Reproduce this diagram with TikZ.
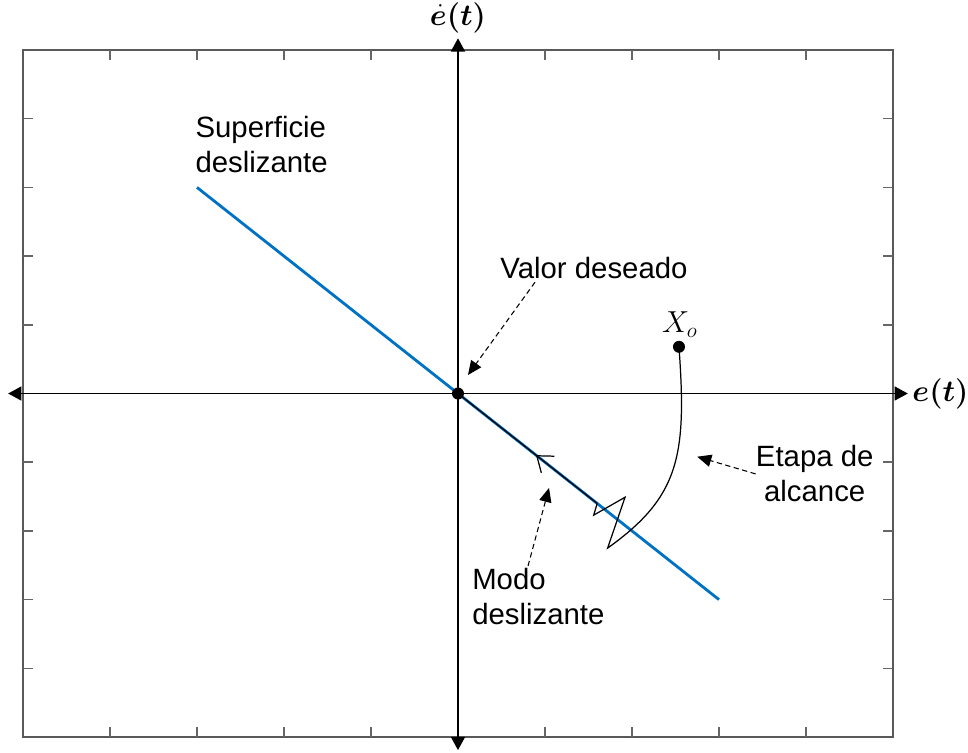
\documentclass[tikz,border=0pt]{standalone}
\usepackage{fontspec}
\setmainfont{Liberation Sans}
\usepackage{amsmath}
\usepackage{bm}
\usetikzlibrary{arrows.meta, decorations.markings}

\definecolor{slideblue}{RGB}{0,114,198}

\begin{document}
\begin{tikzpicture}[x=1.74cm, y=1.374cm,
    lbl/.style={font=\fontsize{16.7}{20}\selectfont, inner sep=0pt, align=left},
    guide/.style={-{Triangle[length=8pt,width=7pt]}, dash pattern=on 3pt off 2pt, line width=0.6pt},
    axis/.style={{Triangle[length=7.5pt,width=8pt]}-{Triangle[length=7.5pt,width=8pt]}, line width=0.7pt},
    dot/.style={circle, fill=black, inner sep=0pt, minimum size=0.24cm}]

\useasboundingbox (-5.264,-5.218) rectangle (5.862,5.728);

% Frame with inward ticks
\draw[black!65, line width=1.1pt] (-5,-5) rectangle (5,5);
\foreach \t in {-4,-3,-2,-1,1,2,3,4} {
    \draw[black!60, line width=0.9pt] (\t,5) -- ++(0,-0.146);
    \draw[black!60, line width=0.9pt] (\t,-5) -- ++(0,0.146);
    \draw[black!60, line width=0.9pt] (-5,\t) -- ++(0.115,0);
    \draw[black!60, line width=0.9pt] (5,\t) -- ++(-0.115,0);
}

% Axes
\draw[axis] (-5.17,0) -- (5.17,0);
\draw[axis] (0,-5.19) -- (0,5.17);
\node[lbl, anchor=west] (elbl) at (5.22,0) {$\bm{e(t)}$};
\node[lbl] (edotlbl) at (0,5.47) {$\bm{\dot{e}(t)}$};

% Sliding surface
\draw[slideblue, line width=1.6pt] (-3,3) -- (3,-3);
\node[lbl, anchor=west] (surflbl) at (-3.02,3.62) {Superficie\\deslizante};

% Points
\node[dot] (goal) at (0,0) {};
\node[dot] (x0) at (2.54,0.68) {};
\node[lbl] (x0lbl) at (2.55,1.0) {$X_o$};

% Trajectory: reaching phase, chattering, sliding mode
\draw[line width=0.7pt] (x0.center) .. controls (2.63,-0.9) and (2.55,-1.5) .. (1.72,-2.25)
    -- (1.92,-1.51) -- (1.56,-1.77) -- (1.6,-1.6);
\draw[line width=0.7pt, decoration={markings, mark=at position 0.44 with {\arrow{Straight Barb[length=8pt,width=12pt]}}},
    postaction={decorate}] (1.6,-1.6) -- (goal.center);

% Labels with dashed pointers
\node[lbl] (goallbl) at (1.563,1.827) {Valor deseado};
\coordinate (goaltail) at (0.885,1.62);
\coordinate (goaltip) at (0.115,0.27);
\draw[guide] (goaltail) -- (goaltip);

\node[lbl, align=center] (reachlbl) at (4.10,-1.17) {Etapa de\\alcance};
\coordinate (reachtip) at (2.75,-0.92);
\draw[guide] (reachlbl.west) -- (reachtip);

\node[lbl, anchor=west] (modelbl) at (0.16,-2.96) {Modo\\deslizante};
\coordinate (modetail) at (0.805,-2.51);
\coordinate (modetip) at (1.046,-1.375);
\draw[guide] (modetail) -- (modetip);

\end{tikzpicture}
\end{document}
